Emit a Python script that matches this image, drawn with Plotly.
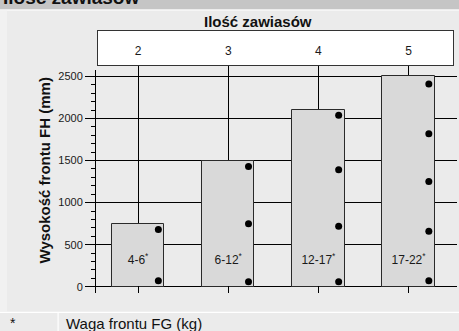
import plotly.graph_objects as go

# Data
hinges = [2, 3, 4, 5]
front_height = [750, 1500, 2100, 2500]
weight_ranges = ["4-6", "6-12", "12-17", "17-22"]
hinge_positions = [
    [70, 680],
    [60, 750, 1430],
    [60, 720, 1390, 2040],
    [70, 660, 1250, 1820, 2410],
]
y_ticks = [0, 500, 1000, 1500, 2000, 2500]

W, H = 459, 331
FONT = "Liberation Sans, Arial, Helvetica, sans-serif"
INK = "#1a1a1a"


def fx(px):
    return px / W


def fy(py):
    return 1 - py / H


fig = go.Figure()

# Bars
fig.add_trace(go.Bar(
    x=hinges, y=front_height, width=0.58,
    marker=dict(color="#d9d9d9", line=dict(color="#2a2a2a", width=1)),
    hoverinfo="skip", showlegend=False,
))

# Hinge dots along the right edge of each bar
dot_offset = 0.225
dx, dy = [], []
for n, ys in zip(hinges, hinge_positions):
    for v in ys:
        dx.append(n + dot_offset)
        dy.append(v)
fig.add_trace(go.Scatter(
    x=dx, y=dy, mode="markers",
    marker=dict(color="black", size=7),
    hoverinfo="skip", showlegend=False,
))

# Weight range labels inside the bars
fig.add_trace(go.Scatter(
    x=hinges, y=[310] * len(hinges), mode="text",
    text=[f"{w}<sup>*</sup>" for w in weight_ranges],
    textposition="middle center",
    textfont=dict(family=FONT, size=12, color=INK),
    hoverinfo="skip", showlegend=False,
))

# Hinge count labels in the top box
fig.add_trace(go.Scatter(
    x=hinges, y=[0.38] * len(hinges), mode="text",
    text=[str(n) for n in hinges],
    textposition="middle center",
    textfont=dict(family=FONT, size=12, color=INK),
    xaxis="x2", yaxis="y2",
    hoverinfo="skip", showlegend=False,
))

shapes = [
    # header band
    dict(type="rect", xref="paper", yref="paper", x0=0, x1=1, y0=fy(9.5), y1=1,
         fillcolor="#c5c5c5", line=dict(width=0), layer="below"),
    dict(type="rect", xref="paper", yref="paper", x0=0, x1=1, y0=fy(10.6), y1=fy(9.5),
         fillcolor="#ffffff", line=dict(width=0), layer="below"),
    # left strip
    dict(type="rect", xref="paper", yref="paper", x0=0, x1=fx(7), y0=fy(311.5), y1=fy(10.6),
         fillcolor="#f1f1f1", line=dict(width=0), layer="below"),
    # footer separators
    dict(type="rect", xref="paper", yref="paper", x0=0, x1=1, y0=fy(313), y1=fy(311.8),
         fillcolor="#ffffff", line=dict(width=0), layer="below"),
    dict(type="rect", xref="paper", yref="paper", x0=fx(57.5), x1=fx(58.7), y0=0, y1=fy(313),
         fillcolor="#ffffff", line=dict(width=0), layer="below"),
    # white top box
    dict(type="rect", xref="x2 domain", yref="y2 domain", x0=0, x1=1, y0=0, y1=1,
         fillcolor="#ffffff", line=dict(width=0), layer="below"),
]

annotations = [
    dict(text="<b>Ilość zawiasów</b>", xref="paper", yref="paper",
         x=fx(1), y=fy(-2.5), xanchor="left", yanchor="middle", showarrow=False,
         font=dict(family=FONT, size=19, color="#111")),
    dict(text="<b>Ilość zawiasów</b>", xref="paper", yref="paper",
         x=fx(258), y=fy(21), xanchor="center", yanchor="middle", showarrow=False,
         font=dict(family=FONT, size=15, color="#111")),
    dict(text="<b>Wysokość frontu FH (mm)</b>", xref="paper", yref="paper",
         x=fx(43.5), y=fy(171), xanchor="center", yanchor="middle", showarrow=False,
         textangle=-90, font=dict(family=FONT, size=15, color="#111")),
    dict(text="*", xref="paper", yref="paper",
         x=fx(13), y=fy(323), xanchor="center", yanchor="middle", showarrow=False,
         font=dict(family=FONT, size=14, color="#111")),
    dict(text="Waga frontu FG (kg)", xref="paper", yref="paper",
         x=fx(64), y=fy(323), xanchor="left", yanchor="middle", showarrow=False,
         font=dict(family=FONT, size=15, color="#111")),
]

# x scale shared by both panels: 90.16 px per hinge, hinge 3.5 at 273.3 px
def xr(p0, p1):
    return [3.5 + (p0 - 273.3) / 90.16, 3.5 + (p1 - 273.3) / 90.16]


fig.update_layout(
    width=W, height=H,
    margin=dict(l=0, r=0, t=0, b=0),
    paper_bgcolor="#ebebeb",
    plot_bgcolor="rgba(0,0,0,0)",
    font=dict(family=FONT, color=INK),
    shapes=shapes,
    annotations=annotations,
    bargap=0,
    xaxis=dict(
        domain=[fx(96), fx(457)], range=xr(96, 457),
        tickvals=hinges, showticklabels=False,
        ticks="inside", ticklen=7, tickcolor="black", tickwidth=1,
        showgrid=True, gridcolor="black", gridwidth=1,
        showline=False, zeroline=False, fixedrange=True,
    ),
    yaxis=dict(
        domain=[fy(293), fy(70)], range=[-75, 2577],
        tickvals=y_ticks, ticks="outside", ticklen=10, tickcolor="black",
        tickfont=dict(family=FONT, size=11, color=INK),
        showline=True, linecolor="black", linewidth=1,
        showgrid=True, gridcolor="black", gridwidth=1, zeroline=False,
        minor=dict(ticks="outside", ticklen=4, tickcolor="black",
                   tickmode="linear", tick0=0, dtick=100, showgrid=False),
        fixedrange=True,
    ),
    xaxis2=dict(
        domain=[fx(98), fx(453)], range=xr(98, 453), anchor="y2",
        tickvals=hinges, showticklabels=False,
        ticks="outside", ticklen=6, tickcolor="black",
        showline=True, mirror=True, linecolor="#333", linewidth=1,
        showgrid=False, zeroline=False, fixedrange=True,
    ),
    yaxis2=dict(
        domain=[fy(65), fy(31)], range=[0, 1], anchor="x2",
        showticklabels=False, ticks="",
        showline=True, mirror=True, linecolor="#333", linewidth=1,
        showgrid=False, zeroline=False, fixedrange=True,
    ),
)

fig.write_html("out.html", config={"displayModeBar": False})
